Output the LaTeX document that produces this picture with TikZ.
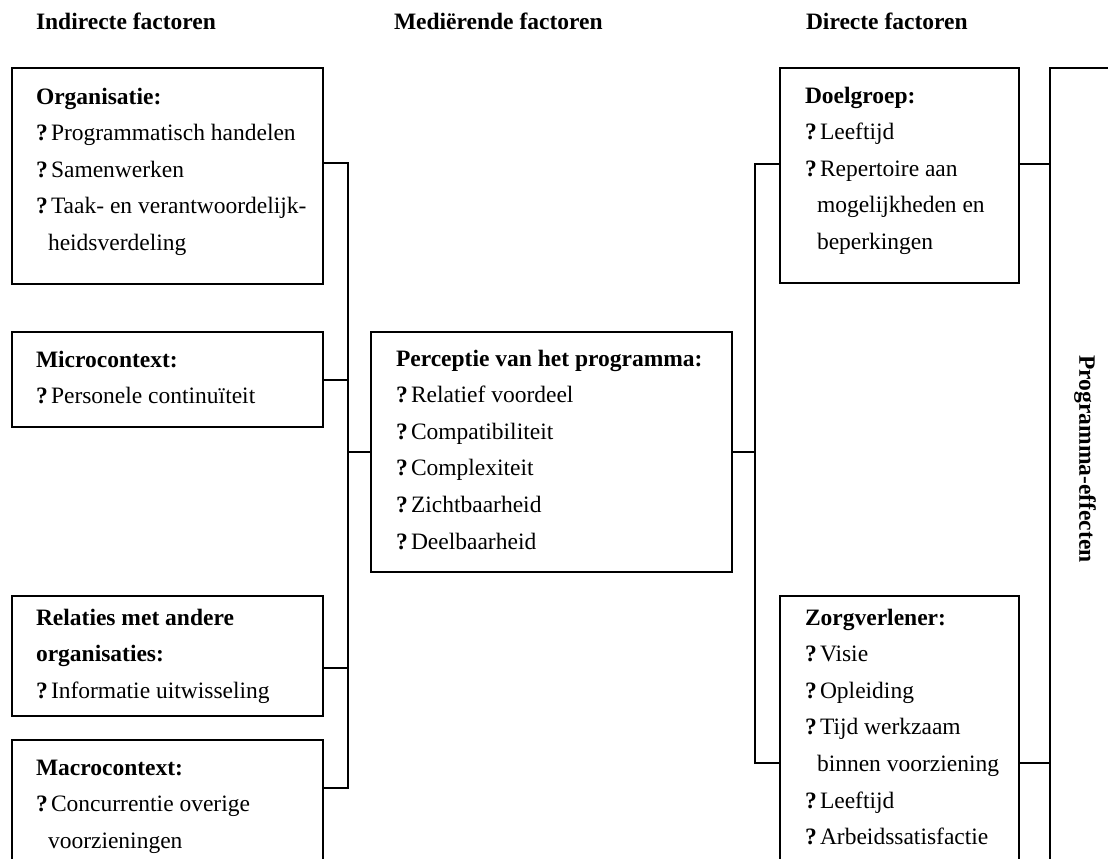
\documentclass[tikz,border=0pt]{standalone}
\usepackage{fontspec}
\setmainfont{Liberation Serif}
% bullet item with a bold question-mark marker, and a continuation line
\newcommand\itm[1]{\makebox[7.5pt][l]{\bfseries ?}#1}
\newcommand\cnt[1]{\hspace{6pt}#1}
\begin{document}
\begin{tikzpicture}[x=0.5pt,y=-0.5pt,
  every node/.style={inner sep=0pt,outer sep=0pt,font=\fontsize{11.75}{14}\selectfont},
  box/.style={draw,line width=0.9pt,anchor=north west},
  txt/.style={anchor=base west},
  head/.style={anchor=base west,font=\fontsize{11.75}{14}\selectfont\bfseries},
  link/.style={line width=0.9pt}]
\useasboundingbox (0,0) rectangle (1108,858);
\clip (0,0) rectangle (1108,858);

% column headings
\node[head] (h1) at (36,29) {Indirecte factoren};
\node[head] (h2) at (394,29) {Mediërende factoren};
\node[head] (h3) at (806,29) {Directe factoren};

% boxes
\node[box,minimum width=155.5pt,minimum height=108pt] (org) at (12,68) {};
\node[box,minimum width=155.5pt,minimum height=47.5pt] (micro) at (12,332) {};
\node[box,minimum width=155.5pt,minimum height=60pt] (rel) at (12,596) {};
\node[box,minimum width=155.5pt,minimum height=80pt] (macro) at (12,740) {};
\node[box,minimum width=180.5pt,minimum height=120pt] (perc) at (371,332) {};
\node[box,minimum width=119.5pt,minimum height=107.5pt] (doel) at (780,68) {};
\node[box,minimum width=119.5pt,minimum height=150pt] (zorg) at (780,596) {};
\node[box,minimum width=50pt,minimum height=415pt] (prog) at (1050,68) {};

% Organisatie
\node[txt,font=\fontsize{11.75}{14}\selectfont\bfseries] (o0) at (36,104) {Organisatie:};
\node[txt] (o1) at (36,140.6) {\itm{Programmatisch handelen}};
\node[txt] (o2) at (36,177.2) {\itm{Samenwerken}};
\node[txt] (o3) at (36,213.8) {\itm{Taak- en verantwoordelijk-}};
\node[txt] (o4) at (36,250.4) {\cnt{heidsverdeling}};

% Microcontext
\node[txt,font=\fontsize{11.75}{14}\selectfont\bfseries] (m0) at (36,367) {Microcontext:};
\node[txt] (m1) at (36,403.6) {\itm{Personele continuïteit}};

% Relaties met andere organisaties
\node[txt,font=\fontsize{11.75}{14}\selectfont\bfseries] (r0) at (36,625) {Relaties met andere};
\node[txt,font=\fontsize{11.75}{14}\selectfont\bfseries] (r1) at (36,661.6) {organisaties:};
\node[txt] (r2) at (36,698.2) {\itm{Informatie uitwisseling}};

% Macrocontext
\node[txt,font=\fontsize{11.75}{14}\selectfont\bfseries] (a0) at (36,775) {Macrocontext:};
\node[txt] (a1) at (36,811.6) {\itm{Concurrentie overige}};
\node[txt] (a2) at (36,848.2) {\cnt{voorzieningen}};

% Perceptie van het programma
\node[txt,font=\fontsize{11.75}{14}\selectfont\bfseries] (p0) at (396,366) {Perceptie van het programma:};
\node[txt] (p1) at (396,402.6) {\itm{Relatief voordeel}};
\node[txt] (p2) at (396,439.2) {\itm{Compatibiliteit}};
\node[txt] (p3) at (396,475.8) {\itm{Complexiteit}};
\node[txt] (p4) at (396,512.4) {\itm{Zichtbaarheid}};
\node[txt] (p5) at (396,549) {\itm{Deelbaarheid}};

% Doelgroep
\node[txt,font=\fontsize{11.75}{14}\selectfont\bfseries] (d0) at (805,103) {Doelgroep:};
\node[txt] (d1) at (805,139.6) {\itm{Leeftijd}};
\node[txt] (d2) at (805,176.2) {\itm{Repertoire aan}};
\node[txt] (d3) at (805,212.8) {\cnt{mogelijkheden en}};
\node[txt] (d4) at (805,249.4) {\cnt{beperkingen}};

% Zorgverlener
\node[txt,font=\fontsize{11.75}{14}\selectfont\bfseries] (z0) at (805,625) {Zorgverlener:};
\node[txt] (z1) at (805,661.6) {\itm{Visie}};
\node[txt] (z2) at (805,698.2) {\itm{Opleiding}};
\node[txt] (z3) at (805,734.8) {\itm{Tijd werkzaam}};
\node[txt] (z4) at (805,771.4) {\cnt{binnen voorziening}};
\node[txt] (z5) at (805,808) {\itm{Leeftijd}};
\node[txt] (z6) at (805,844.6) {\itm{Arbeidssatisfactie}};

% Programma-effecten (vertical label)
\node[rotate=-90,font=\fontsize{11.75}{14}\selectfont\bfseries] (pt) at (1085,459) {Programma-effecten};

% junction points of the connectors
\coordinate (jOrg) at (348,163);
\coordinate (jMicro) at (348,380);
\coordinate (jPerc) at (348,452);
\coordinate (jRel) at (348,668);
\coordinate (jMacro) at (348,788);
\coordinate (kDoel) at (755,164);
\coordinate (kPerc) at (755,452);
\coordinate (kZorg) at (755,763);

% left bracket: indirect factors to perception
\draw[link] (org.east |- jOrg) -- (jOrg) -- (jMacro) -- (macro.east |- jMacro);
\draw[link] (micro.east |- jMicro) -- (jMicro);
\draw[link] (rel.east |- jRel) -- (jRel);
\draw[link] (jPerc) -- (perc.west);

% right bracket: perception to direct factors
\draw[link] (doel.west |- kDoel) -- (kDoel) -- (kZorg) -- (zorg.west |- kZorg);
\draw[link] (perc.east) -- (kPerc);

% direct factors to programme effects
\draw[link] (doel.east |- kDoel) -- (prog.west |- kDoel);
\draw[link] (zorg.east |- kZorg) -- (prog.west |- kZorg);
\end{tikzpicture}
\end{document}
